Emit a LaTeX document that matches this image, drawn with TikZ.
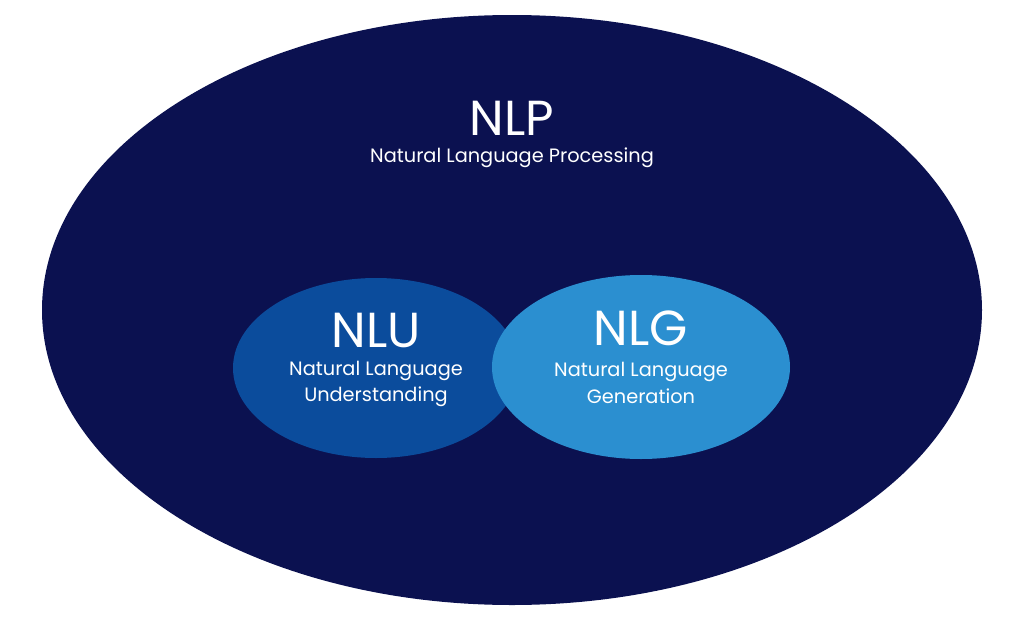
\documentclass[tikz,border=0pt]{standalone}
\usepackage{fontspec}
\setmainfont{Poppins}
\usetikzlibrary{shapes.geometric}
\definecolor{navy}{HTML}{0B1150}
\definecolor{nlu}{HTML}{0B4C9C}
\definecolor{nlg}{HTML}{2B8FD0}
\tikzset{
 title/.style={text=white,font=\fontsize{28}{30}\selectfont},
 sub/.style={text=white,font=\fontsize{11}{15}\selectfont,align=center},
}
\begin{document}
\begin{tikzpicture}
\useasboundingbox[fill=white] (0,0) rectangle (20.2,12.6);
\fill[navy] (10.24,6.4) ellipse [x radius=9.4, y radius=5.9];
\fill[nlu] (7.52,5.24) ellipse [x radius=2.86, y radius=1.8];
\fill[nlg] (12.82,5.26) ellipse [x radius=2.98, y radius=1.84];
\node[title] (nlp) at (10.24,10.24) {NLP};
\node[sub] (nlps) at (10.24,9.44) {Natural Language Processing};
\node[title] (nlut) at (7.52,6.0) {NLU};
\node[sub] (nlus) at (7.52,4.92) {Natural Language\\Understanding};
\node[title] (nlgt) at (12.82,6.04) {NLG};
\node[sub] (nlgs) at (12.82,4.94) {Natural Language\\Generation};
\end{tikzpicture}
\end{document}
